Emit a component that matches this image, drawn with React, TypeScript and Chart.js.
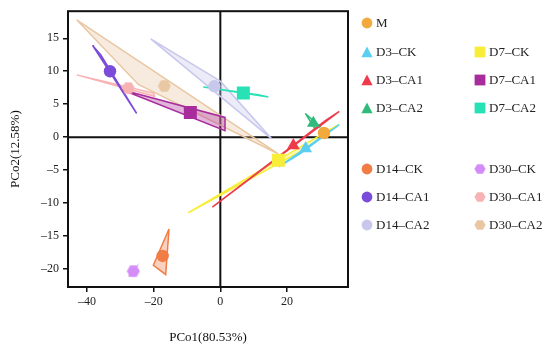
import React, { useEffect, useRef } from "react";
import { Chart, registerables } from "chart.js";

Chart.register(...registerables);

// ---------- data ----------
const groupNames = ["M", "D3–CK", "D3–CA1", "D3–CA2", "D7–CK", "D7–CA1", "D7–CA2", "D14–CK", "D14–CA1", "D14–CA2", "D30–CK", "D30–CA1", "D30–CA2"];
const groupColors = ["#F2AA3C", "#5ACFF2", "#EE3B4B", "#2FBB7C", "#F8EE3A", "#A82C9C", "#28E2B6", "#F27C46", "#7B4CDA", "#C8C7EC", "#D48DF8", "#F7B3B3", "#E9C7A3"];
const groupShapes = ["circle", "triangle", "triangle", "triangle", "rect", "rect", "rect", "circle", "circle", "circle", "hex", "hex", "hex"];

const centroidX = [31.1, 25.6, 21.9, 27.9, 17.4, -9.0, 6.9, -17.3, -33.1, -1.8, -26.1, -27.6, -16.8];
const centroidY = [0.65, -1.7, -1.25, 2.15, -3.5, 3.73, 6.7, -18.0, 10.0, 7.72, -20.3, 7.45, 7.77];

const hullM: number[][] = [];
const hullD3CK = [[17.5, -4.5], [24.0, -2.5], [35.7, 1.9]];
const hullD3CA1 = [[-2.4, -10.6], [35.7, 3.9], [31.5, 2.5]];
const hullD3CA2 = [[25.5, 3.6], [28.3, 1.3], [30.0, 1.6]];
const hullD7CK = [[-9.6, -11.45], [35.4, 1.9], [26.4, -1.5]];
const hullD7CA1 = [[-29.5, 7.2], [1.4, 3.0], [1.4, 1.0]];
const hullD7CA2 = [[-5.1, 7.6], [14.4, 6.1], [11.4, 6.45]];
const hullD14CK = [[-15.4, -13.9], [-20.1, -19.4], [-16.4, -20.8]];
const hullD14CA1 = [[-38.3, 13.9], [-35.9, 12.5], [-25.1, 3.6]];
const hullD14CA2 = [[-20.9, 14.9], [0.0, 8.5], [15.4, -0.25]];
const hullD30CK = [[-27.5, -21.1], [-25.5, -20.0], [-25.3, -19.8]];
const hullD30CA1 = [[-43.1, 9.45], [-20.0, 6.7], [-19.7, 6.2]];
const hullD30CA2 = [[-43.1, 17.8], [-24.6, 8.0], [17.3, -2.5]];

const hulls = [hullM, hullD3CK, hullD3CA1, hullD3CA2, hullD7CK, hullD7CA1, hullD7CA2, hullD14CK, hullD14CA1, hullD14CA2, hullD30CK, hullD30CA1, hullD30CA2];

const xTickValues = [-40, -20, 0, 20];
const yTickValues = [-20, -15, -10, -5, 0, 5, 10, 15];
const xRange = [-45.7, 38.3];
const yRange = [-22.7, 19.1];
const xTitle = "PCo1(80.53%)";
const yTitle = "PCo2(12.58%)";

// ---------- helpers ----------
const FONT = "'Liberation Serif', 'Times New Roman', serif";

function hexToRgba(hex: string, a: number) {
  const n = parseInt(hex.slice(1), 16);
  return `rgba(${(n >> 16) & 255},${(n >> 8) & 255},${n & 255},${a})`;
}

function makeHexImage(color: string, size: number) {
  const c = document.createElement("canvas");
  c.width = size;
  c.height = size;
  const ctx = c.getContext("2d")!;
  const r = size / 2 - 0.5;
  ctx.fillStyle = color;
  ctx.beginPath();
  for (let i = 0; i < 6; i++) {
    const ang = (Math.PI / 3) * i;
    const px = size / 2 + r * Math.cos(ang);
    const py = size / 2 + r * Math.sin(ang);
    if (i === 0) ctx.moveTo(px, py);
    else ctx.lineTo(px, py);
  }
  ctx.closePath();
  ctx.fill();
  return c;
}

const fmtTick = (v: any) => (Number(v) < 0 ? "–" + Math.abs(Number(v)) : String(v));

const framePlugin = {
  id: "framePlugin",
  beforeDatasetsDraw(chart: any) {
    const { ctx, chartArea: a, scales } = chart;
    const x0 = scales.x.getPixelForValue(0);
    const y0 = scales.y.getPixelForValue(0);
    ctx.save();
    ctx.strokeStyle = "#111";
    ctx.lineWidth = 2;
    ctx.beginPath();
    ctx.moveTo(x0, a.top);
    ctx.lineTo(x0, a.bottom);
    ctx.moveTo(a.left, y0);
    ctx.lineTo(a.right, y0);
    ctx.stroke();
    ctx.restore();
  },
  afterDatasetsDraw(chart: any) {
    const { ctx, chartArea: a } = chart;
    ctx.save();
    ctx.strokeStyle = "#111";
    ctx.lineWidth = 2;
    ctx.strokeRect(a.left, a.top, a.right - a.left, a.bottom - a.top);
    ctx.restore();
  },
};

function LegendMarker({ shape, color }: { shape: string; color: string }) {
  const s = 12;
  let el: any;
  if (shape === "circle") el = <circle cx={6} cy={6} r={5.4} fill={color} />;
  else if (shape === "triangle") el = <polygon points="6,0.6 11.6,11.2 0.4,11.2" fill={color} />;
  else if (shape === "rect") el = <rect x={0.6} y={0.6} width={10.8} height={10.8} fill={color} />;
  else {
    const pts: string[] = [];
    for (let i = 0; i < 6; i++) {
      const ang = (Math.PI / 3) * i;
      pts.push(`${6 + 5.6 * Math.cos(ang)},${6 + 5.6 * Math.sin(ang)}`);
    }
    el = <polygon points={pts.join(" ")} fill={color} />;
  }
  return (
    <svg width={s} height={s} style={{ display: "block" }}>
      {el}
    </svg>
  );
}

export default function App() {
  const ref = useRef<HTMLCanvasElement | null>(null);

  useEffect(() => {
    if (!ref.current) return;
    const hullSets = hulls
      .map((h, i) => ({ h, i }))
      .filter((o) => o.h.length > 0)
      .map(({ h, i }) => ({
        type: "line" as const,
        label: groupNames[i] + " hull",
        data: [...h, h[0]].map((p) => ({ x: p[0], y: p[1] })),
        borderColor: groupColors[i],
        backgroundColor: hexToRgba(groupColors[i], 0.35),
        borderWidth: 1.5,
        fill: "shape",
        pointRadius: 0,
        tension: 0,
        order: 1,
      }));
    const pointSets = groupNames.map((name, i) => {
      const shape = groupShapes[i];
      let pointStyle: any = shape;
      let radius = 6.2;
      if (shape === "triangle") radius = 7.4;
      if (shape === "rect") radius = 9.2;
      if (shape === "hex") pointStyle = makeHexImage(groupColors[i], 14);
      return {
        type: "scatter" as const,
        label: name,
        data: [{ x: centroidX[i], y: centroidY[i] }],
        pointStyle,
        pointRadius: radius,
        backgroundColor: groupColors[i],
        borderColor: groupColors[i],
        borderWidth: 0,
        order: 0,
      };
    });

    const chart = new Chart(ref.current, {
      type: "scatter",
      data: { datasets: [...pointSets, ...hullSets] as any },
      options: {
        animation: false,
        responsive: false,
        devicePixelRatio: 1,
        layout: { padding: { left: 0, top: 7, right: 202, bottom: 0 } },
        plugins: { legend: { display: false }, tooltip: { enabled: false } },
        scales: {
          x: {
            type: "linear",
            min: xRange[0],
            max: xRange[1],
            afterBuildTicks: (s: any) => {
              s.ticks = xTickValues.map((v) => ({ value: v }));
            },
            afterFit: (s: any) => {
              s.height = 61;
            },
            grid: { display: true, drawOnChartArea: false, drawTicks: true, tickLength: 5, color: "#111", lineWidth: 1.5 },
            border: { display: false },
            ticks: { font: { family: FONT, size: 12 }, color: "#222", padding: 3, callback: fmtTick, maxRotation: 0, autoSkip: false },
            title: { display: true, text: xTitle, font: { family: FONT, size: 13 }, color: "#111", padding: { top: 0, bottom: 3 } },
          },
          y: {
            type: "linear",
            min: yRange[0],
            max: yRange[1],
            afterBuildTicks: (s: any) => {
              s.ticks = yTickValues.map((v) => ({ value: v }));
            },
            afterFit: (s: any) => {
              s.width = 68;
            },
            grid: { display: true, drawOnChartArea: false, drawTicks: true, tickLength: 5, color: "#111", lineWidth: 1.5 },
            border: { display: false },
            ticks: { font: { family: FONT, size: 12 }, color: "#222", padding: 4, callback: fmtTick, autoSkip: false },
            title: { display: true, text: yTitle, font: { family: FONT, size: 13 }, color: "#111", padding: { top: 8, bottom: 0 } },
          },
        },
      } as any,
      plugins: [framePlugin],
    });
    return () => chart.destroy();
  }, []);

  // legend layout
  const legendItems = groupNames.map((name, i) => {
    let col = 0;
    let y = 23;
    if (name.startsWith("D30")) { col = 1; y = 169 + 28 * (i - 10); }
    else if (name.startsWith("D14")) { col = 0; y = 169 + 28 * (i - 7); }
    else if (name.startsWith("D7")) { col = 1; y = 52 + 28 * (i - 4); }
    else if (name.startsWith("D3")) { col = 0; y = 52 + 28 * (i - 1); }
    const mx = col === 0 ? 366.5 : 480;
    const tx = col === 0 ? 376 : 489;
    return { name, i, y, mx, tx };
  });

  return (
    <div style={{ position: "absolute", left: 0, top: 0, width: 550, height: 348, background: "#fff", fontFamily: FONT }}>
      <canvas ref={ref} width={550} height={348} style={{ display: "block", position: "absolute", left: 0, top: 0 }} />
      {legendItems.map((it) => (
        <React.Fragment key={it.name}>
          <div style={{ position: "absolute", left: it.mx - 6, top: it.y - 6 }}>
            <LegendMarker shape={groupShapes[it.i]} color={groupColors[it.i]} />
          </div>
          <div style={{ position: "absolute", left: it.tx, top: it.y - 8, height: 16, lineHeight: "16px", fontSize: 13, color: "#222", whiteSpace: "nowrap" }}>
            {it.name}
          </div>
        </React.Fragment>
      ))}
    </div>
  );
}
